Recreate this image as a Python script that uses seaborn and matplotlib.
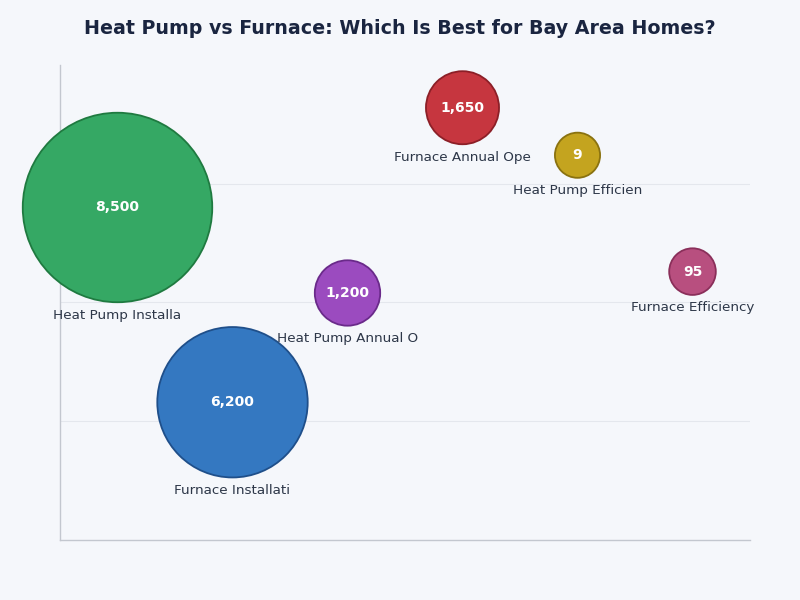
import matplotlib
matplotlib.use("Agg")
import matplotlib.pyplot as plt
import seaborn as sns
import pandas as pd

labels = ["Heat Pump Installa", "Furnace Installati", "Heat Pump Annual O",
          "Furnace Annual Ope", "Heat Pump Efficien", "Furnace Efficiency"]
values = [8500, 6200, 1200, 1650, 9, 95]
y_pos = [70, 29, 52, 91, 81, 56.5]
colors = ["#35a864", "#3478c1", "#9b4bbf", "#c6363f", "#c4a41f", "#b84f7f"]
edges = ["#1f7a40", "#1f4f8a", "#6a2a8a", "#8c1f27", "#8a7210", "#8a2f5a"]

df = pd.DataFrame({"label": labels, "value": values, "x": list(range(len(labels))), "y": y_pos})

# radius in pixels from value
radii = [22.5 + 0.0085 * v for v in values]
sizes = {lab: (2 * r * 0.72) ** 2 for lab, r in zip(labels, radii)}

sns.set_theme(style="white")
plt.rcParams['font.family'] = ['DejaVu Sans']
bg = "#f5f7fb"
fig = plt.figure(figsize=(8, 6), dpi=100, facecolor=bg)
ax = fig.add_axes([0.075, 0.1, 0.8625, 0.7917])
ax.set_facecolor(bg)

sns.scatterplot(data=df, x="x", y="y", hue="label", size="label", sizes=sizes,
                palette=colors, legend=False, ax=ax, linewidth=1.3, alpha=1, zorder=3,
                clip_on=False)
coll = ax.collections[0]
coll.set_edgecolors(edges)
coll.set_clip_on(False)

ax.set_xlim(-0.5, 5.5)
ax.set_ylim(0, 100)
ax.set_yticks([25, 50, 75])
ax.set_xticks([])
ax.set_yticklabels([])
ax.tick_params(left=False, bottom=False)
ax.grid(axis="y", color="#e4e7ed", linewidth=0.8, zorder=0)
ax.set_xlabel("")
ax.set_ylabel("")
for s in ["top", "right"]:
    ax.spines[s].set_visible(False)
for s in ["left", "bottom"]:
    ax.spines[s].set_color("#c3c7cf")
    ax.spines[s].set_linewidth(1.0)

for i, row in df.iterrows():
    ax.text(row["x"], row["y"], f"{row['value']:,}", ha="center", va="center",
            color="white", fontsize=10, fontweight="bold", zorder=4)
    ax.annotate(row["label"], (row["x"], row["y"]), xytext=(0, -(radii[i] + 13) * 0.72),
                textcoords="offset points", ha="center", va="center",
                fontsize=9.7, color="#2d3748", zorder=4)

fig.suptitle("Heat Pump vs Furnace: Which Is Best for Bay Area Homes?",
             x=0.5, y=1 - 28 / 600, va="center", fontsize=13.7, fontweight="bold", color="#1a2540")

fig.savefig("out.png", dpi=100, facecolor=bg)
